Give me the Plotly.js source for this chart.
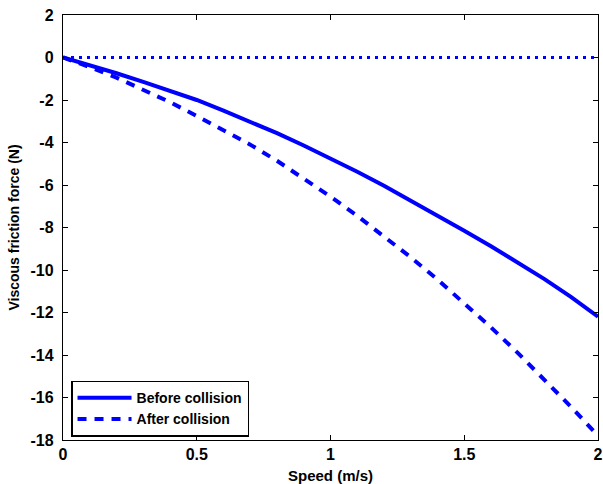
<!DOCTYPE html>
<html>
<head>
<meta charset="utf-8">
<script src="https://cdn.plot.ly/plotly-3.0.1.min.js"></script>
<style>
html,body{margin:0;padding:0;background:#fff}
#chart{width:603px;height:484px}
</style>
</head>
<body>
<div id="chart"></div>
<script>
var speed = [0,0.1,0.2,0.3,0.4,0.5,0.6,0.7,0.8,0.9,1.0,1.1,1.2,1.3,1.4,1.5,1.6,1.7,1.8,1.9,2.0];
var beforeCollision = [0,-0.36,-0.74,-1.15,-1.57,-2.0,-2.5,-3.02,-3.56,-4.14,-4.75,-5.38,-6.03,-6.72,-7.42,-8.15,-8.88,-9.64,-10.43,-11.28,-12.2];
var afterCollision = [0,-0.45,-0.95,-1.5,-2.1,-2.75,-3.4,-4.1,-4.86,-5.68,-6.55,-7.45,-8.4,-9.4,-10.45,-11.55,-12.7,-13.9,-15.15,-16.45,-17.8];
var zeroX = [0, 2];
var zeroY = [0, 0];
var xTicks = [0, 0.5, 1, 1.5, 2];
var xTickText = ['0', '0.5', '1', '1.5', '2'];
var yTicks = [2,0,-2,-4,-6,-8,-10,-12,-14,-16,-18];
var yTickText = ['2','0','-2','-4','-6','-8','-10','-12','-14','-16','-18'];

var blue = '#0000ff';
var fam = 'Liberation Sans, Arial, sans-serif';
var tickFont = {family: fam, size: 16, color: '#000', weight: 'bold'};

var traces = [
  {x: speed, y: beforeCollision, mode: 'lines', name: 'Before collision',
   line: {color: blue, width: 4}},
  {x: speed, y: afterCollision, mode: 'lines', name: 'After collision',
   line: {color: blue, width: 4, dash: '9px,8px'}},
  {x: zeroX, y: zeroY, mode: 'lines', showlegend: false,
   line: {color: blue, width: 3, dash: '3px,5px'}}
];

var layout = {
  width: 603, height: 484,
  margin: {l: 63, r: 5, t: 15, b: 44},
  paper_bgcolor: '#fff', plot_bgcolor: '#fff',
  font: tickFont,
  showlegend: true,
  legend: {x: 0.015, y: 0.008, xanchor: 'left', yanchor: 'bottom',
    bgcolor: '#fff', bordercolor: '#000', borderwidth: 1.5,
    font: {family: fam, size: 14, color: '#000', weight: 'bold'},
    tracegroupgap: 0, itemwidth: 54},
  xaxis: {range: [0, 2], tickvals: xTicks, ticktext: xTickText,
    ticks: 'inside', ticklen: 5, tickcolor: '#000', mirror: 'ticks',
    showline: true, linecolor: '#000', linewidth: 1.2, showgrid: false, zeroline: false,
    tickfont: tickFont, ticklabeloverflow: 'allow',
    title: {text: 'Speed (m/s)', font: {family: fam, size: 15, color: '#000', weight: 'bold'}, standoff: 8}},
  yaxis: {range: [-18, 2], tickvals: yTicks, ticktext: yTickText,
    ticks: 'inside', ticklen: 5, tickcolor: '#000', mirror: 'ticks',
    showline: true, linecolor: '#000', linewidth: 1.2, showgrid: false, zeroline: false,
    tickfont: tickFont, ticklabelstandoff: 5, ticklabeloverflow: 'allow',
    title: {text: 'Viscous friction force (N)', font: {family: fam, size: 14, color: '#000', weight: 'bold'}, standoff: 7}}
};

Plotly.newPlot('chart', traces, layout, {displayModeBar: false, staticPlot: true});
</script>
</body>
</html>
